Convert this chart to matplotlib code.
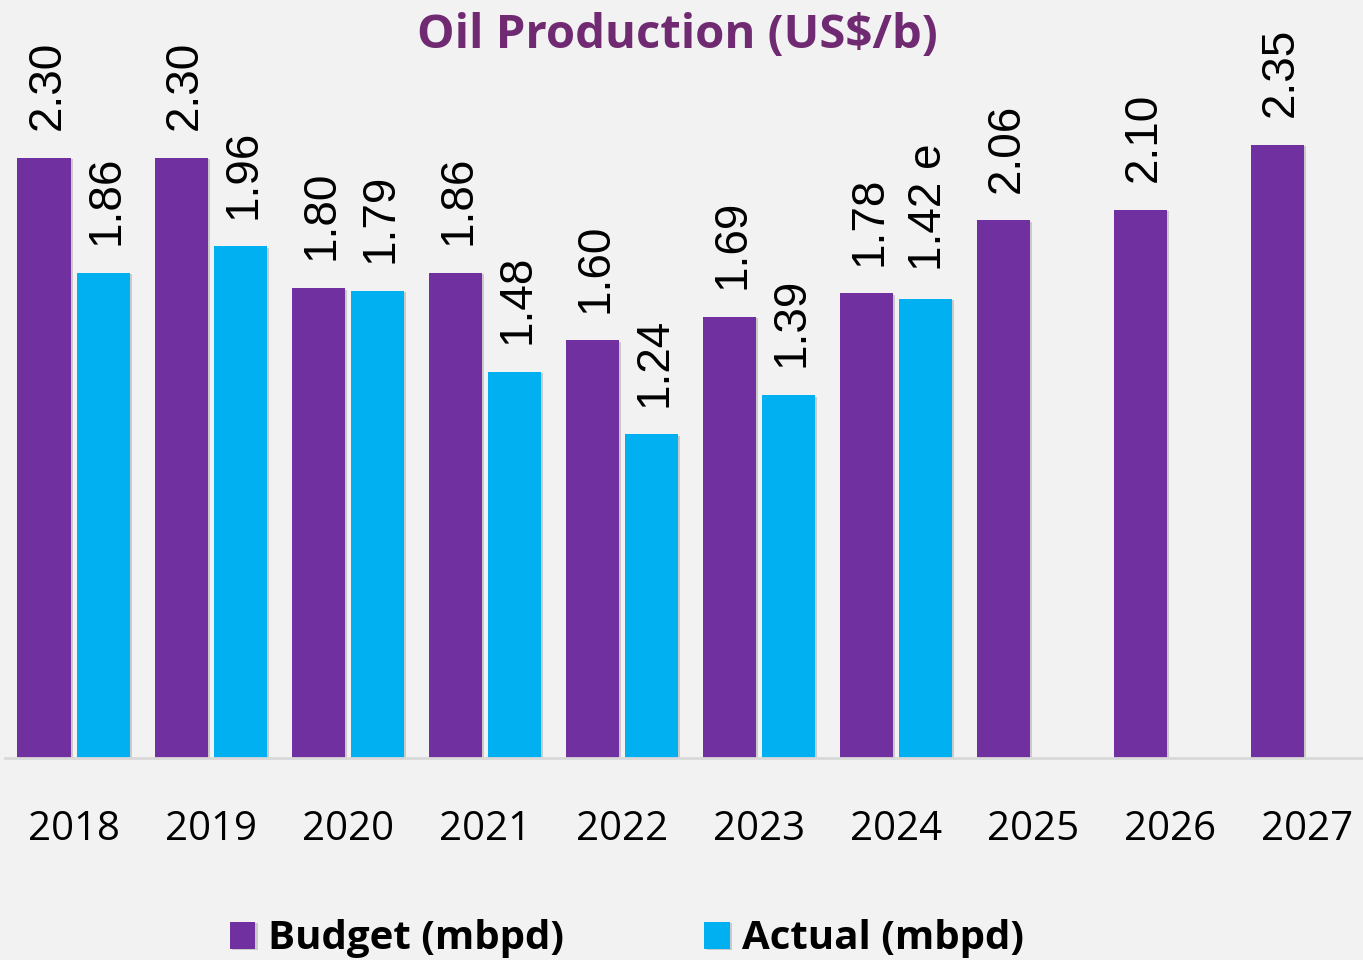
import numpy as np
import matplotlib
matplotlib.use("Agg")
import matplotlib.pyplot as plt
import matplotlib.patheffects as pe

# data
years = ["2018", "2019", "2020", "2021", "2022", "2023", "2024", "2025", "2026", "2027"]
budget = [2.30, 2.30, 1.80, 1.86, 1.60, 1.69, 1.78, 2.06, 2.10, 2.35]
actual = [1.86, 1.96, 1.79, 1.48, 1.24, 1.39, 1.76]
actual_labels = ["1.86", "1.96", "1.79", "1.48", "1.24", "1.39", "1.42 e"]

purple = "#7030a0"
cyan = "#00b0f0"
bg = "#f2f2f2"

W, H = 1363, 960
fig = plt.figure(figsize=(W / 100, H / 100), dpi=100, facecolor=bg)
ax = fig.add_axes([5 / W, 202 / H, 1358 / W, 758 / H])
ax.set_facecolor(bg)

x = np.arange(len(years))
w = 0.387
off = w / 2 + 0.022
shadow = [pe.SimplePatchShadow(offset=(1.5, -1), shadow_rgbFace="#808080", alpha=0.35), pe.Normal()]

b1 = ax.bar(x - off, budget, width=w, color=purple, label="Budget (mbpd)", path_effects=shadow)
b2 = ax.bar(x[:len(actual)] + off, actual, width=w, color=cyan, label="Actual (mbpd)", path_effects=shadow)

lab_font = dict(family="Liberation Sans", fontsize=33, rotation=90, ha="center", va="bottom")
for xi, v in zip(x - off, budget):
    ax.annotate(f"{v:.2f}", (xi, v), xytext=(2.5, 20), textcoords="offset points", **lab_font)
for xi, v, t in zip(x[:len(actual)] + off, actual, actual_labels):
    ax.annotate(t, (xi, v), xytext=(2.5, 20), textcoords="offset points", **lab_font)

ax.set_xlim(-0.5, 9.41)
ax.set_ylim(0, 758 / 261)
ax.set_xticks(x)
ax.set_xticklabels(years, fontfamily="Open Sans", fontsize=29)
ax.tick_params(axis="x", length=0, pad=37)
ax.set_yticks([])
for s in ["top", "right", "left"]:
    ax.spines[s].set_visible(False)
ax.spines["bottom"].set_color("#d9d9d9")
ax.spines["bottom"].set_linewidth(2)

fig.text(677 / W, 1 - 35 / H, "Oil Production (US$/b)", ha="center", va="center",
         fontfamily="Open Sans", fontweight="bold", fontsize=34, color="#6f2a72")

leg = fig.legend(handles=[b1, b2], loc="center", bbox_to_anchor=(627 / W, 1 - 939 / H),
                 ncol=2, frameon=False, handlelength=0.64, handleheight=0.64,
                 handletextpad=0.3, columnspacing=3.5,
                 prop=dict(family="Open Sans", weight="bold", size=29))

fig.savefig("out.png", dpi=100, facecolor=bg)
